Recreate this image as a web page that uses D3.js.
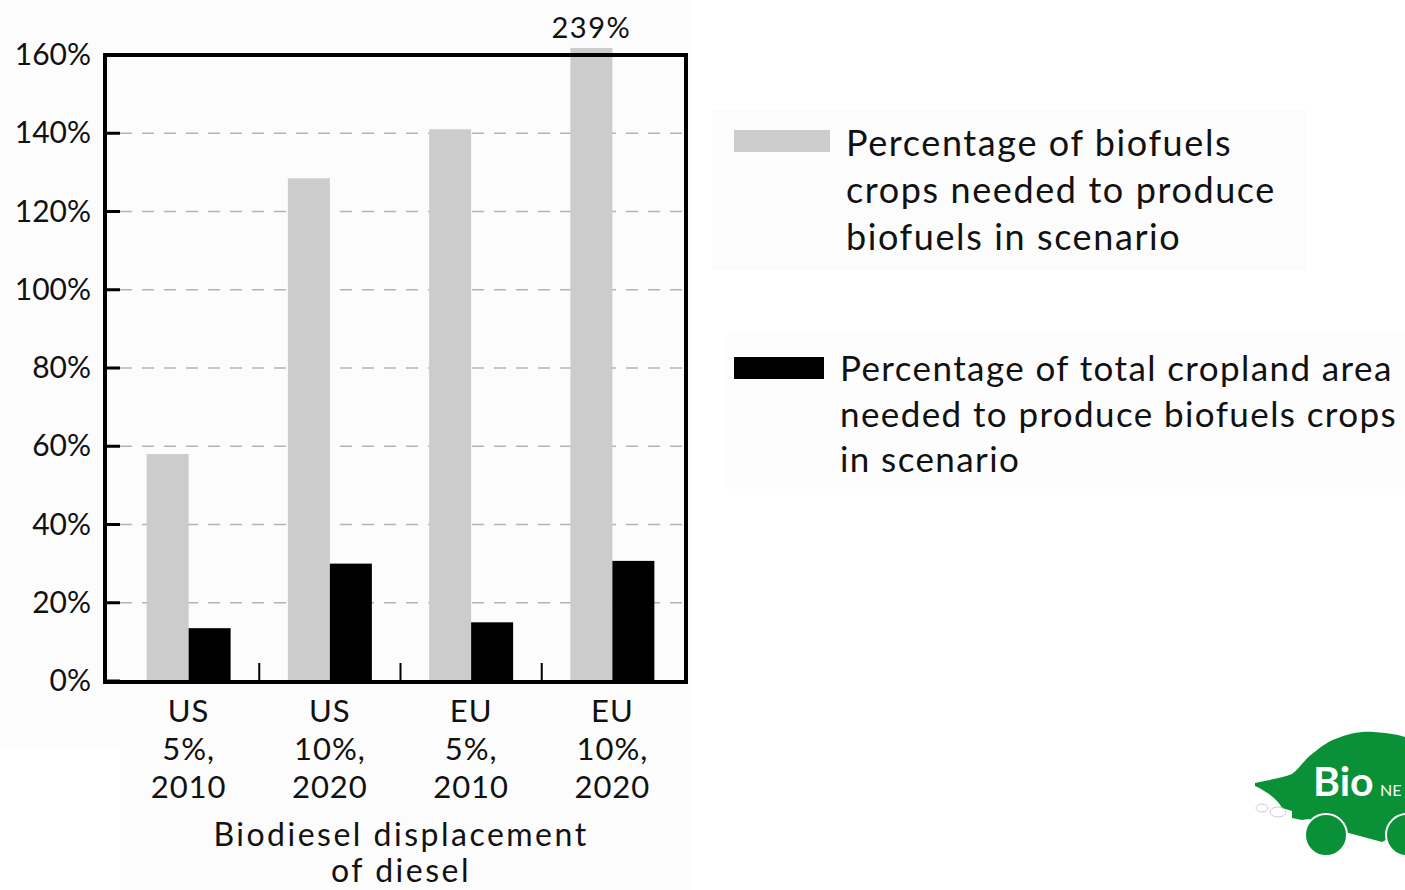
<!DOCTYPE html>
<html>
<head>
<meta charset="utf-8">
<script src="https://cdn.jsdelivr.net/npm/d3@7"></script>
<style>
  html, body { margin: 0; padding: 0; background: #ffffff; }
  svg { display: block; }
  text { font-family: Lato, "Open Sans", sans-serif; fill: #111; }
</style>
</head>
<body>
<svg id="chart" width="1405" height="890"></svg>
<script>
// Scenario categories (three label lines each)
const scenarioRegion = ["US", "US", "EU", "EU"];
const scenarioShare  = ["5%,", "10%,", "5%,", "10%,"];
const scenarioYear   = ["2010", "2020", "2010", "2020"];

// Percentage of biofuels crops needed to produce biofuels in scenario
const cropsNeeded = [58, 128.5, 141, 239];
// Percentage of total cropland area needed to produce biofuels crops in scenario
const croplandShare = [13.5, 30, 15, 30.7];

const yTicks = [0, 20, 40, 60, 80, 100, 120, 140, 160];
const legendLabels = [
  ["Percentage of biofuels", "crops needed to produce", "biofuels in scenario"],
  ["Percentage of total cropland area", "needed to produce biofuels crops", "in scenario"]
];
const xTitle = ["Biodiesel displacement", "of diesel"];

const svg = d3.select("#chart");

// faint panel backgrounds
svg.append("rect").attr("x", 0).attr("y", 0).attr("width", 692).attr("height", 748).attr("fill", "#fcfcfc");
svg.append("rect").attr("x", 120).attr("y", 748).attr("width", 572).attr("height", 142).attr("fill", "#fcfcfc");
svg.append("rect").attr("x", 712).attr("y", 110).attr("width", 594).attr("height", 160).attr("fill", "#fcfcfc");
svg.append("rect").attr("x", 726).attr("y", 334).attr("width", 679).attr("height", 155).attr("fill", "#fdfdfd");

const plotLeft = 105, innerLeft = 120, plotRight = 686, plotTop = 55, plotBottom = 681;
const maxShown = 161.8;   // bars taller than the axis are cut just above the frame

const x = d3.scaleBand().domain(d3.range(cropsNeeded.length)).range([118, 683]).paddingInner(0).paddingOuter(0);
const y = d3.scaleLinear().domain([0, 160]).range([plotBottom, plotTop]);
const barW = 42;

// dashed gridlines
svg.append("g").selectAll("line").data(yTicks.filter(t => t > 0 && t < 160)).join("line")
  .attr("x1", innerLeft).attr("x2", plotRight)
  .attr("y1", d => y(d)).attr("y2", d => y(d))
  .attr("stroke", "#b4b4b4").attr("stroke-width", 1.5).attr("stroke-dasharray", "12,10");

// bars
const groups = svg.append("g");
groups.selectAll("rect.crops").data(cropsNeeded).join("rect").attr("class", "crops")
  .attr("x", (d, i) => x(i) + x.bandwidth() / 2 - barW)
  .attr("width", barW)
  .attr("y", d => y(Math.min(d, maxShown)))
  .attr("height", d => y(0) - y(Math.min(d, maxShown)))
  .attr("fill", "#cccccc");
groups.selectAll("rect.land").data(croplandShare).join("rect").attr("class", "land")
  .attr("x", (d, i) => x(i) + x.bandwidth() / 2)
  .attr("width", barW)
  .attr("y", d => y(d))
  .attr("height", d => y(0) - y(d))
  .attr("fill", "#000000");

// value label for the off-scale bar
cropsNeeded.forEach((v, i) => {
  if (v > 160) {
    svg.append("text").attr("x", x(i) + x.bandwidth() / 2 - barW / 2).attr("y", 38)
      .attr("text-anchor", "middle").attr("font-size", 29).attr("letter-spacing", 1.5).text(v + "%");
  }
});

// frame
svg.append("path")
  .attr("d", `M${plotLeft},${plotTop} L${plotRight},${plotTop} L${plotRight},${plotBottom + 1} L${plotLeft},${plotBottom + 1} Z`)
  .attr("fill", "none").attr("stroke", "#000").attr("stroke-width", 4);

// y axis
const yAxis = d3.axisLeft(y).tickValues(yTicks).tickFormat(d => d + "%").tickSize(0).tickPadding(14);
const ya = svg.append("g").attr("transform", `translate(${plotLeft},0)`).call(yAxis);
ya.select(".domain").remove();
ya.selectAll("text").attr("font-size", 30).attr("font-family", "Lato, sans-serif").attr("fill", "#111");
// inward tick marks
svg.append("g").selectAll("line").data(yTicks).join("line")
  .attr("x1", plotLeft).attr("x2", innerLeft)
  .attr("y1", d => y(d)).attr("y2", d => y(d))
  .attr("stroke", "#000").attr("stroke-width", 3);

// x group separators
svg.append("g").selectAll("line").data(d3.range(1, cropsNeeded.length)).join("line")
  .attr("x1", d => x(d)).attr("x2", d => x(d))
  .attr("y1", plotBottom - 18).attr("y2", plotBottom)
  .attr("stroke", "#000").attr("stroke-width", 2);

// category labels
const cat = svg.append("g").selectAll("text").data(d3.range(cropsNeeded.length)).join("text")
  .attr("text-anchor", "middle").attr("font-size", 31).attr("letter-spacing", 1);
[scenarioRegion, scenarioShare, scenarioYear].forEach((arr, k) => {
  cat.append("tspan").attr("x", i => x(i) + x.bandwidth() / 2)
    .attr("y", 722 + k * 38).text(i => arr[i]);
});

// axis title (two lines in one text element)
const title = svg.append("text").attr("text-anchor", "middle").attr("font-size", 32).attr("letter-spacing", 2.5);
xTitle.forEach((t, k) => {
  title.append("tspan").attr("x", 401).attr("y", 846 + k * 36).text(t);
});

// legend
const legend = svg.append("g");
legend.append("rect").attr("x", 734).attr("y", 130).attr("width", 96).attr("height", 22).attr("fill", "#cccccc");
legend.append("rect").attr("x", 734).attr("y", 357).attr("width", 90).attr("height", 22).attr("fill", "#000");
legendLabels[0].forEach((t, k) => {
  legend.append("text").attr("x", 846).attr("y", 156 + k * 47).attr("font-size", 36)
    .attr("letter-spacing", 1.6).text(t);
});
legendLabels[1].forEach((t, k) => {
  legend.append("text").attr("x", 840).attr("y", 381 + k * 45.5).attr("font-size", 35)
    .attr("letter-spacing", 1.4).text(t);
});

// logo
const logo = svg.append("g");
logo.append("path")
  .attr("d", "M1255,783 C1268,780 1282,778 1292,774 C1300,768 1304,760 1312,754 C1320,748 1326,742 1338,738 C1348,734 1360,731 1374,732 C1386,733 1396,734 1405,737 L1405,830 L1382,842 L1345,832 C1330,818 1314,818 1302,820 L1292,818 L1292,811 L1282,808 C1278,800 1268,792 1255,786 Z")
  .attr("fill", "#0a9138");
logo.append("circle").attr("cx", 1326).attr("cy", 835).attr("r", 21).attr("fill", "#0a9138").attr("stroke", "#fff").attr("stroke-width", 2);
logo.append("circle").attr("cx", 1407).attr("cy", 835).attr("r", 21).attr("fill", "#0a9138").attr("stroke", "#fff").attr("stroke-width", 2);
logo.append("ellipse").attr("cx", 1262).attr("cy", 808).attr("rx", 6).attr("ry", 4).attr("fill", "none").attr("stroke", "#ccc").attr("stroke-width", 1);
logo.append("ellipse").attr("cx", 1278).attr("cy", 812).attr("rx", 8).attr("ry", 5).attr("fill", "none").attr("stroke", "#ccc").attr("stroke-width", 1);
logo.append("text").attr("x", 1313).attr("y", 796).attr("font-size", 41).attr("font-weight", "bold")
  .attr("font-family", "Open Sans, sans-serif").style("fill", "#fff").text("Bio");
logo.append("text").attr("x", 1380).attr("y", 796).attr("font-size", 16)
  .attr("font-family", "Open Sans, sans-serif").style("fill", "#fff").text("NE");
</script>
</body>
</html>
